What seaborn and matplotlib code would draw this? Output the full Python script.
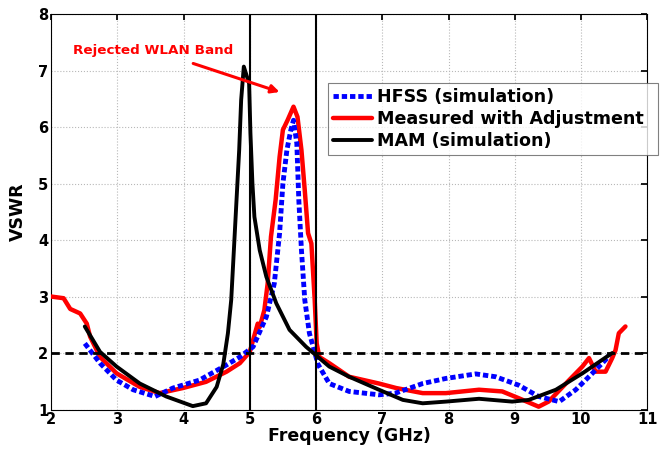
import matplotlib
matplotlib.use("Agg")
import matplotlib.pyplot as plt
import seaborn as sns
import pandas as pd

# HFSS (simulation)
hfss_x = [2.51, 2.74, 2.99, 3.24, 3.57, 3.84, 4.24, 4.65, 4.85, 5.05, 5.25, 5.37, 5.45, 5.50, 5.56,
          5.62, 5.66, 5.71, 5.74, 5.78, 5.83, 5.90, 6.03, 6.20, 6.50, 6.95, 7.20, 7.61, 7.96, 8.41,
          8.71, 9.06, 9.36, 9.67, 9.92, 10.17, 10.37, 10.42]
hfss_y = [2.17, 1.82, 1.52, 1.35, 1.23, 1.38, 1.52, 1.79, 1.93, 2.11, 2.64, 3.23, 4.12, 5.00, 5.59,
          5.95, 6.12, 5.71, 4.71, 3.82, 2.94, 2.35, 1.80, 1.46, 1.32, 1.26, 1.29, 1.46, 1.55, 1.63,
          1.58, 1.43, 1.23, 1.14, 1.35, 1.64, 1.88, 1.96]

# Measured with Adjustment
meas_x = [2.00, 2.19, 2.29, 2.44, 2.54, 2.59, 2.74, 2.99, 3.34, 3.64, 3.99, 4.34, 4.65, 4.85, 5.00,
          5.12, 5.15, 5.22, 5.27, 5.32, 5.39, 5.45, 5.50, 5.57, 5.66, 5.72, 5.78, 5.83, 5.88, 5.93,
          5.98, 6.01, 6.05, 6.20, 6.50, 6.95, 7.21, 7.61, 7.96, 8.46, 8.81, 9.06, 9.36, 9.51, 9.82,
          10.02, 10.12, 10.22, 10.37, 10.47, 10.52, 10.57, 10.67]
meas_y = [3.00, 2.97, 2.78, 2.70, 2.52, 2.29, 1.93, 1.64, 1.40, 1.29, 1.38, 1.49, 1.67, 1.82, 2.02,
          2.52, 2.46, 2.76, 3.23, 4.06, 4.71, 5.47, 5.95, 6.12, 6.36, 6.18, 5.59, 4.88, 4.12, 3.94,
          2.94, 2.17, 1.93, 1.82, 1.58, 1.46, 1.38, 1.29, 1.29, 1.35, 1.32, 1.20, 1.05, 1.14, 1.52,
          1.76, 1.91, 1.67, 1.67, 1.91, 2.05, 2.35, 2.47]

# MAM (simulation)
mam_x = [2.51, 2.74, 2.99, 3.34, 3.74, 4.14, 4.34, 4.50, 4.60, 4.67, 4.72, 4.76, 4.80, 4.84, 4.87,
         4.91, 4.99, 5.01, 5.04, 5.07, 5.15, 5.25, 5.40, 5.60, 5.85, 6.03, 6.20, 6.50, 6.95, 7.31,
         7.61, 7.96, 8.46, 8.96, 9.21, 9.62, 10.02, 10.47]
mam_y = [2.47, 2.02, 1.76, 1.46, 1.23, 1.06, 1.11, 1.40, 1.80, 2.35, 2.94, 3.82, 4.71, 5.59, 6.48,
         7.07, 6.77, 5.89, 5.00, 4.41, 3.82, 3.35, 2.88, 2.41, 2.11, 1.93, 1.76, 1.58, 1.35, 1.17,
         1.11, 1.14, 1.19, 1.14, 1.17, 1.35, 1.64, 2.00]

x_ticks = [2, 3, 4, 5, 6, 7, 8, 9, 10, 11]
y_ticks = [1, 2, 3, 4, 5, 6, 7, 8]
band = [5, 6]
threshold = 2

sns.set_theme(style="white")
plt.rcParams['font.family'] = ['DejaVu Sans']

fig = plt.figure(figsize=(6.65, 4.53), dpi=100)
ax = fig.add_axes([0.0767, 0.096, 0.8967, 0.873])

df_h = pd.DataFrame({"x": hfss_x, "y": hfss_y})
df_m = pd.DataFrame({"x": meas_x, "y": meas_y})
df_a = pd.DataFrame({"x": mam_x, "y": mam_y})

sns.lineplot(data=df_h, x="x", y="y", ax=ax, color="#0000ff", lw=3.5, sort=False, estimator=None,
             linestyle=(0, (1.1, 0.6)), label="HFSS (simulation)", zorder=4)
sns.lineplot(data=df_m, x="x", y="y", ax=ax, color="#ff0000", lw=3.2, sort=False, estimator=None,
             label="Measured with Adjustment", zorder=3)
sns.lineplot(data=df_a, x="x", y="y", ax=ax, color="black", lw=2.8, sort=False, estimator=None,
             label="MAM (simulation)", zorder=5)

ax.axhline(threshold, color="black", lw=2, linestyle=(0, (3, 2)), zorder=6)
ax.plot([band[0], band[0], band[1], band[1]], [1, 8, 8, 1], color="black", lw=1.5, zorder=6)

ax.set_xlim(2, 11)
ax.set_ylim(1, 8)
ax.set_xticks(x_ticks)
ax.set_yticks(y_ticks)
ax.grid(True, color="#b8b8b8", linestyle=":", lw=0.8)
ax.tick_params(direction="in", top=True, right=True, length=4, labelsize=10.5, pad=2,
               colors="black")
plt.setp(ax.get_xticklabels(), fontweight="bold")
plt.setp(ax.get_yticklabels(), fontweight="bold")
for s in ax.spines.values():
    s.set_color("black")
    s.set_linewidth(0.8)

ax.set_xlabel("Frequency (GHz)", fontsize=12.5, fontweight="bold", labelpad=0, color="black")
ax.set_ylabel("VSWR", fontsize=12.5, fontweight="bold", labelpad=8, color="black")

ax.annotate("Rejected WLAN Band", xy=(5.45, 6.62), xytext=(3.54, 7.36),
            color="#ff0000", fontsize=9.7, fontweight="bold", ha="center", va="center",
            arrowprops=dict(arrowstyle="-|>", color="#ff0000", lw=2.2, mutation_scale=12,
                            shrinkA=8, shrinkB=0), zorder=7)

leg = ax.legend(loc="upper left", bbox_to_anchor=(0.4645, 0.631, 0.5534, 0.1945), mode="expand",
                frameon=True, fancybox=False,
                prop={"weight": "bold", "size": 12.6}, handlelength=2.2, borderpad=0.3,
                labelspacing=0.22, handletextpad=0.3, borderaxespad=0)
leg.get_frame().set_edgecolor("#606060")
leg.get_frame().set_linewidth(0.8)
for t in leg.get_texts():
    t.set_color("black")
leg.set_zorder(10)

fig.savefig("out.png", dpi=100)
